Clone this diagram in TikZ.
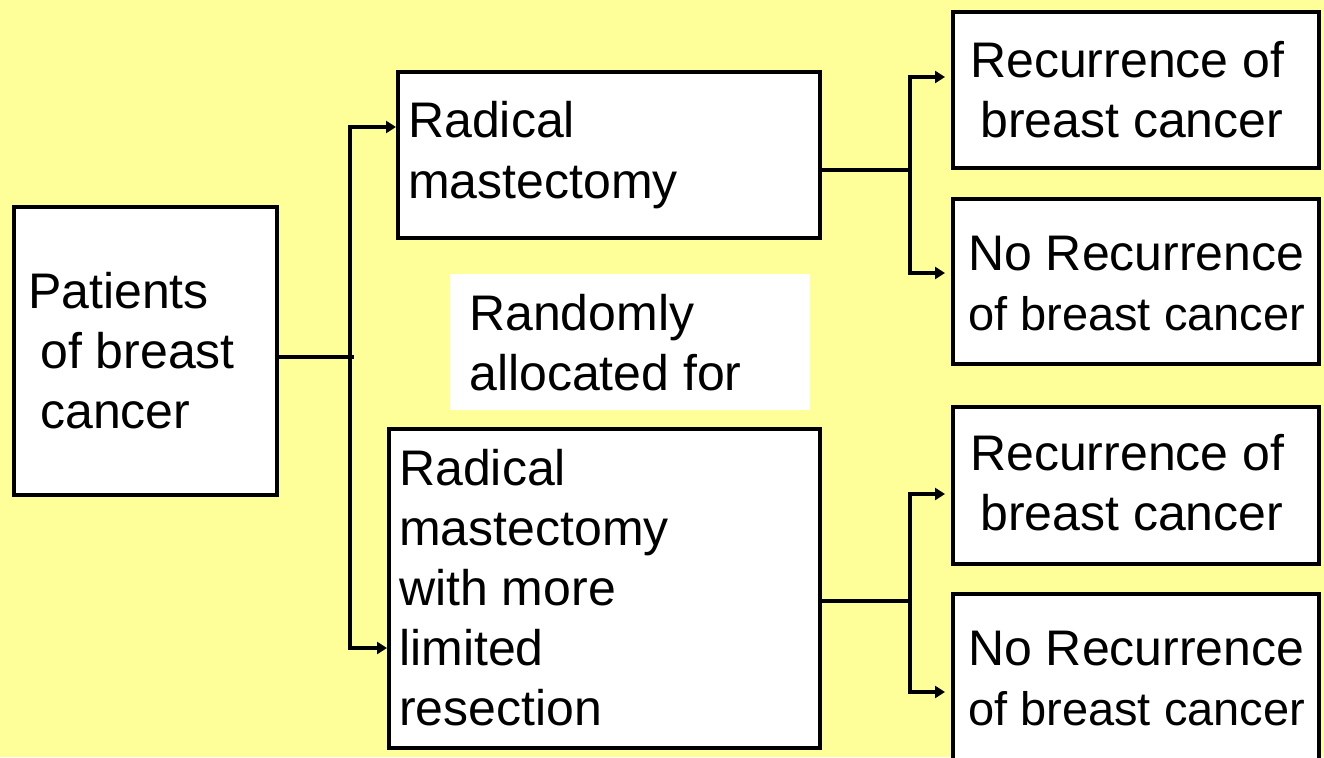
\documentclass[tikz,border=0pt]{standalone}
\usepackage{fontspec}
\setmainfont{Liberation Sans}
\usetikzlibrary{arrows.meta}
\definecolor{bgyellow}{RGB}{255,255,153}
\begin{document}
\begin{tikzpicture}[x=1pt,y=-1pt,
  box/.style={draw=black,line width=4pt,fill=white,inner sep=0pt},
  lbl/.style={anchor=base west,inner sep=0pt,font=\fontsize{50}{60}\selectfont},
  conn/.style={line width=4pt},
  arr/.style={line width=4pt,-{Triangle[length=10pt,width=12pt]}}]
\fill[bgyellow] (0,0) rectangle (1324,757);
\useasboundingbox (0,0) rectangle (1324,757);
\clip (0,0) rectangle (1324,757);
% boxes
\node[box,minimum width=263pt,minimum height=288pt] (p) at (145.5,351) {};
\node[box,minimum width=422pt,minimum height=166pt] (rm) at (609,155) {};
\node[box,minimum width=431pt,minimum height=319pt] (rml) at (604.5,588.5) {};
\node[fill=white,inner sep=0pt,minimum width=360pt,minimum height=136pt] (rand) at (630,342) {};
\node[box,minimum width=366pt,minimum height=156pt] (r1) at (1136,90) {};
\node[box,minimum width=366pt,minimum height=165pt] (r2) at (1136,281.5) {};
\node[box,minimum width=366pt,minimum height=157pt] (r3) at (1136,485.5) {};
\node[box,minimum width=366pt,minimum height=204pt] (r4) at (1136,696) {};
% texts
\node[lbl] (tp) at (28,308) {\begin{tabular}[t]{@{}l@{}}Patients\\\hspace*{12pt}of breast\\\hspace*{12pt}cancer\end{tabular}};
\node[lbl] (trm) at (408,138) {\begin{tabular}[t]{@{}l@{}}Radical\\mastectomy\end{tabular}};
\node[lbl] (trand) at (469,330) {\begin{tabular}[t]{@{}l@{}}Randomly\\allocated for\end{tabular}};
\node[lbl] (trml) at (399,485) {\begin{tabular}[t]{@{}l@{}}Radical\\mastectomy\\with more\\limited\\resection\end{tabular}};
\node[lbl] (t1) at (970,78) {\begin{tabular}[t]{@{}l@{}}Recurrence of\\\hspace*{10pt}breast cancer\end{tabular}};
\node[lbl] (t2) at (968,270) {\begin{tabular}[t]{@{}l@{}}No Recurrence\\{\fontsize{47}{60}\selectfont of breast cancer}\end{tabular}};
\node[lbl] (t3) at (970,470) {\begin{tabular}[t]{@{}l@{}}Recurrence of\\\hspace*{10pt}breast cancer\end{tabular}};
\node[lbl] (t4) at (968,665) {\begin{tabular}[t]{@{}l@{}}No Recurrence\\{\fontsize{47}{60}\selectfont of breast cancer}\end{tabular}};
% left connectors
\coordinate (s1) at (354,357);
\coordinate (tj) at (350,127);
\coordinate (bj) at (350,648);
\draw[conn] (p.east |- s1) -- (s1);
\draw[conn] (tj) -- (bj);
\draw[arr] ([xshift=-2pt]tj) -- (rm.west |- tj);
\draw[arr] ([xshift=-2pt]bj) -- (rml.west |- bj);
% right connectors top
\coordinate (k1) at (910,170);
\coordinate (k1a) at (910,77);
\coordinate (k1b) at (910,273);
\draw[conn] (rm.east |- k1) -- (k1);
\draw[conn] (k1a) -- (k1b);
\draw[arr,shorten >=6pt] ([xshift=-2pt]k1a) -- (r1.west |- k1a);
\draw[arr,shorten >=6pt] ([xshift=-2pt]k1b) -- (r2.west |- k1b);
% right connectors bottom
\coordinate (k2) at (910,601);
\coordinate (k2a) at (910,494);
\coordinate (k2b) at (910,692);
\draw[conn] (rml.east |- k2) -- (k2);
\draw[conn] (k2a) -- (k2b);
\draw[arr,shorten >=6pt] ([xshift=-2pt]k2a) -- (r3.west |- k2a);
\draw[arr,shorten >=6pt] ([xshift=-2pt]k2b) -- (r4.west |- k2b);
\end{tikzpicture}
\end{document}
